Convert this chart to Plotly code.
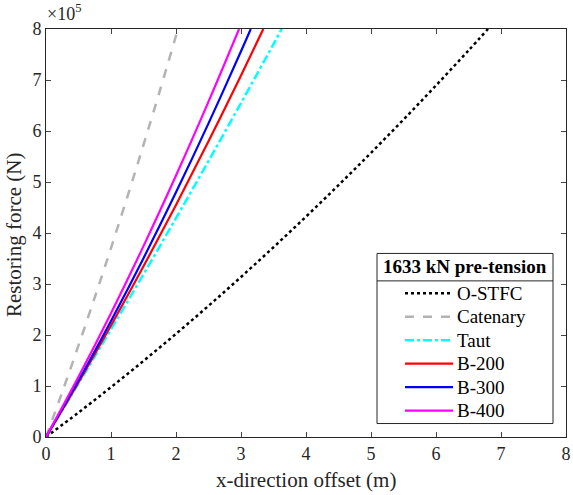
import plotly.graph_objects as go

# ---- data (offset m, restoring force x1e5 N) ----
ostfc_x = [0, 0.5, 1, 1.5, 2, 2.5, 3, 3.5, 4, 4.5, 5, 5.5, 6, 6.5, 6.8]
ostfc_y = [0, 0.480, 0.977, 1.492, 2.023, 2.572, 3.138, 3.721, 4.321, 4.938, 5.573, 6.224, 6.893, 7.579, 8.0]

cat_x = [0, 0.25, 0.5, 0.75, 1, 1.25, 1.5, 1.75, 2, 2.03]
cat_y = [0, 0.883, 1.795, 2.736, 3.705, 4.703, 5.729, 6.784, 7.868, 8.0]

taut_x = [0, 0.5, 1, 1.5, 2, 2.5, 3, 3.5, 3.626]
taut_y = [0, 1.046, 2.110, 3.192, 4.292, 5.411, 6.548, 7.704, 8.0]

b200_x = [0, 0.5, 1, 1.5, 2, 2.5, 3, 3.343]
b200_y = [0, 1.071, 2.186, 3.346, 4.550, 5.798, 7.090, 8.0]

b300_x = [0, 0.5, 1, 1.5, 2, 2.5, 3, 3.15]
b300_y = [0, 1.107, 2.276, 3.506, 4.797, 6.149, 7.563, 8.0]

b400_x = [0, 0.5, 1, 1.5, 2, 2.5, 2.97]
b400_y = [0, 1.180, 2.428, 3.743, 5.126, 6.576, 8.0]

x_ticks = [0, 1, 2, 3, 4, 5, 6, 7, 8]
y_ticks = [0, 1, 2, 3, 4, 5, 6, 7, 8]

legend_title = "1633 kN pre-tension"

FONT = "Liberation Serif"
AX = "#262626"

# plot area in pixels
L, R, T, B = 46, 566, 28.5, 437.5
W, H = R - L, B - T

def px(xp):
    return (xp - L) / W

def py(yp):
    return (B - yp) / H

fig = go.Figure()
series = [
    ("O-STFC", ostfc_x, ostfc_y, "black", "dot", 2.5),
    ("Catenary", cat_x, cat_y, "#b3b3b3", "dash", 2.5),
    ("Taut", taut_x, taut_y, "#00ffff", "dashdot", 2.5),
    ("B-200", b200_x, b200_y, "#ff0000", "solid", 2.2),
    ("B-300", b300_x, b300_y, "#0000ff", "solid", 2.2),
    ("B-400", b400_x, b400_y, "#ff00ff", "solid", 2.2),
]
for name, xs, ys, col, dash, w in series:
    fig.add_trace(go.Scatter(x=xs, y=ys, mode="lines", name=name, showlegend=False,
                             line=dict(color=col, dash=dash, width=w, shape="spline")))

# ---- legend (boxed, with title row) ----
fig.add_shape(type="rect", xref="paper", yref="paper",
              x0=px(377), x1=px(553), y0=py(424), y1=py(253.5),
              line=dict(color="#262626", width=1), fillcolor="white", layer="above")
fig.add_shape(type="line", xref="paper", yref="paper",
              x0=px(377), x1=px(553), y0=py(281), y1=py(281),
              line=dict(color="#262626", width=1), layer="above")
fig.add_annotation(xref="paper", yref="paper", x=px(465), y=py(267),
                   text="<b>" + legend_title + "</b>", showarrow=False,
                   xanchor="center", yanchor="middle",
                   font=dict(family=FONT, size=19, color="black"))
row0, row_gap = 293.5, 23.5
for i, (name, xs, ys, col, dash, w) in enumerate(series):
    yy = py(row0 + i * row_gap)
    fig.add_shape(type="line", xref="paper", yref="paper",
                  x0=px(405), x1=px(453), y0=yy, y1=yy,
                  line=dict(color=col, dash=dash, width=w), layer="above")
    fig.add_annotation(xref="paper", yref="paper", x=px(455), y=yy,
                       text=name, showarrow=False, xanchor="left", yanchor="middle",
                       font=dict(family=FONT, size=19, color="black"))

# exponent label
fig.add_annotation(xref="paper", yref="paper", x=px(45), y=py(25), xanchor="left", yanchor="bottom",
                   text="×10<sup>5</sup>", showarrow=False,
                   font=dict(family=FONT, size=18, color=AX))
# axis titles
fig.add_annotation(xref="paper", yref="paper", x=px(306), y=py(481),
                   text="x-direction offset (m)", showarrow=False,
                   xanchor="center", yanchor="middle",
                   font=dict(family=FONT, size=21, color=AX))
fig.add_annotation(xref="paper", yref="paper", x=px(14), y=py(235),
                   text="Restoring force (N)", showarrow=False, textangle=-90,
                   xanchor="center", yanchor="middle",
                   font=dict(family=FONT, size=21, color=AX))

fig.update_layout(
    width=573, height=495,
    margin=dict(l=L, r=573 - R, t=T, b=495 - B, autoexpand=False),
    paper_bgcolor="white", plot_bgcolor="white",
    font=dict(family=FONT, size=18, color=AX),
    showlegend=False,
    xaxis=dict(range=[0, 8], tickvals=x_ticks, ticks="inside", ticklen=5,
               showline=True, linecolor=AX, linewidth=1, mirror="ticks",
               showgrid=False, zeroline=False, automargin=False,
               tickfont=dict(family=FONT, size=18, color=AX)),
    yaxis=dict(range=[0, 8], tickvals=y_ticks, ticks="inside", ticklen=5,
               showline=True, linecolor=AX, linewidth=1, mirror="ticks",
               showgrid=False, zeroline=False, automargin=False,
               tickfont=dict(family=FONT, size=18, color=AX)),
)

fig.write_html("out.html", config={"displayModeBar": False},
               post_script="document.body.style.margin='0';document.body.style.padding='0';")
